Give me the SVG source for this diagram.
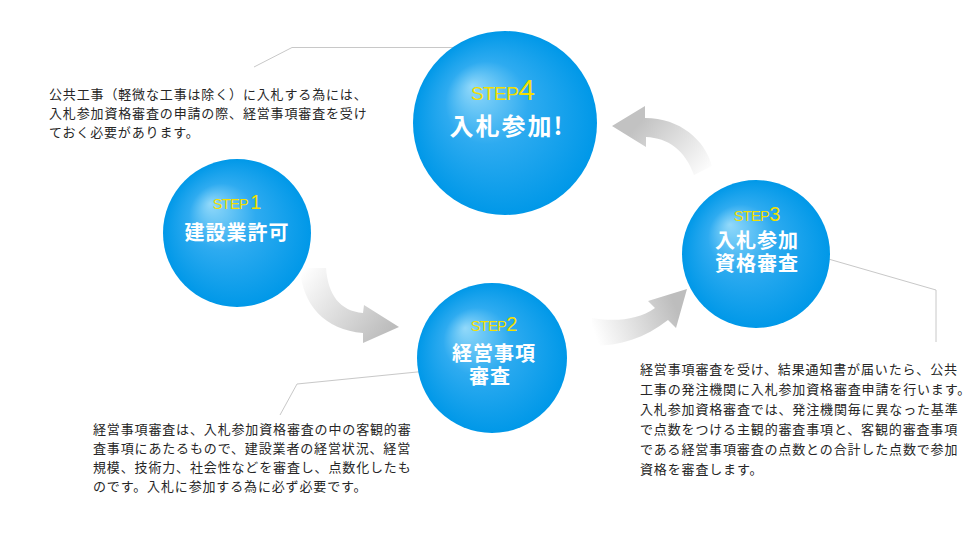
<svg xmlns="http://www.w3.org/2000/svg" width="980" height="534" viewBox="0 0 980 534">
<defs>
<radialGradient id="ball" cx="0.5" cy="0.5" r="0.5" fx="0.32" fy="0.3">
<stop offset="0" stop-color="#92d9fa"/>
<stop offset="0.45" stop-color="#2eabf0"/>
<stop offset="1" stop-color="#0098e8"/>
</radialGradient>
<linearGradient id="ar1" gradientUnits="userSpaceOnUse" x1="305" y1="268" x2="385" y2="335">
<stop offset="0" stop-color="#ffffff"/>
<stop offset="1" stop-color="#bdbdbd"/>
</linearGradient>
<linearGradient id="ar2" gradientUnits="userSpaceOnUse" x1="595" y1="335" x2="675" y2="305">
<stop offset="0" stop-color="#ffffff"/>
<stop offset="1" stop-color="#bdbdbd"/>
</linearGradient>
<linearGradient id="ar3" gradientUnits="userSpaceOnUse" x1="705" y1="178" x2="640" y2="122">
<stop offset="0" stop-color="#ffffff"/>
<stop offset="1" stop-color="#c2c2c2"/>
</linearGradient>
</defs>
<style>
.ball{fill:url(#ball)}
.step{font-family:"Liberation Sans",Arial,sans-serif;fill:#f4df00;letter-spacing:-0.6px}
.ttl{font-family:"Noto Sans CJK JP",sans-serif;font-weight:bold;fill:#ffffff;font-size:20px;letter-spacing:1px}
.desc{font-family:"Noto Sans CJK JP",sans-serif;font-size:13px;letter-spacing:0.85px;fill:#262626}
.lead{fill:none;stroke:#c8c8c8;stroke-width:1}
</style>
<rect width="980" height="534" fill="#ffffff"/>
<g id="connectors">
<path d="M300,268 C302,305 325,330 363,333 L363,343 L399,327 L364,305 L363,313 C340,311 328,295 326,268 Z" fill="url(#ar1)"/>
<path d="M592,346 C620,346 645,338 668,320 L676,328 L687,289 L648,301 L655,308 C638,320 615,322 592,318 Z" fill="url(#ar2)"/>
<path d="M712,166 C705,140 680,118 645,118 L645,106 L612,126 L646,147 L646,137 C668,138 685,150 694,175 Z" fill="url(#ar3)"/>
<polyline class="lead" points="463,47.5 292,47.5 254,67"/>
<polyline class="lead" points="437,370 297,384 280,415"/>
<polyline class="lead" points="818,256 936,290 936,342"/>
</g>
<g id="step4">
<circle class="ball" cx="505" cy="123" r="92"/>
<text x="503" y="100" text-anchor="middle" class="step" font-size="19">STEP<tspan font-size="30" letter-spacing="0">4</tspan></text>
<text x="507" y="135" text-anchor="middle" class="ttl" style="font-size:24px;letter-spacing:2px">入札参加!</text>
</g>
<g id="step1">
<circle class="ball" cx="237" cy="233" r="74"/>
<text x="237" y="209" text-anchor="middle" class="step" font-size="14.5">STEP<tspan font-size="20" letter-spacing="0" dx="2">1</tspan></text>
<text x="237" y="240" text-anchor="middle" class="ttl">建設業許可</text>
</g>
<g id="step2">
<circle class="ball" cx="492" cy="358" r="75"/>
<text x="494" y="331" text-anchor="middle" class="step" font-size="14.5">STEP<tspan font-size="20" letter-spacing="0">2</tspan></text>
<text text-anchor="middle" class="ttl"><tspan x="494" y="361">経営事項</tspan><tspan x="490" y="384">審査</tspan></text>
</g>
<g id="step3">
<circle class="ball" cx="756" cy="254" r="74"/>
<text x="757" y="221" text-anchor="middle" class="step" font-size="14.5">STEP<tspan font-size="20" letter-spacing="0">3</tspan></text>
<text text-anchor="middle" class="ttl"><tspan x="757" y="248">入札参加</tspan><tspan x="757" y="271">資格審査</tspan></text>
</g>
<g id="note4">
<text class="desc" x="49" y="99">公共工事（軽微な工事は除く）に入札する為には、</text>
<text class="desc" x="49" y="118">入札参加資格審査の申請の際、経営事項審査を受け</text>
<text class="desc" x="49" y="137">ておく必要があります。</text>
</g>
<g id="note2">
<text class="desc" x="93" y="434">経営事項審査は、入札参加資格審査の中の客観的審</text>
<text class="desc" x="93" y="453">査事項にあたるもので、建設業者の経営状況、経営</text>
<text class="desc" x="93" y="472">規模、技術力、社会性などを審査し、点数化したも</text>
<text class="desc" x="93" y="491">のです。入札に参加する為に必ず必要です。</text>
</g>
<g id="note3">
<text class="desc" x="640" y="374">経営事項審査を受け、結果通知書が届いたら、公共</text>
<text class="desc" x="640" y="394">工事の発注機関に入札参加資格審査申請を行います。</text>
<text class="desc" x="640" y="414">入札参加資格審査では、発注機関毎に異なった基準</text>
<text class="desc" x="640" y="434">で点数をつける主観的審査事項と、客観的審査事項</text>
<text class="desc" x="640" y="454">である経営事項審査の点数との合計した点数で参加</text>
<text class="desc" x="640" y="474">資格を審査します。</text>
</g>
</svg>
